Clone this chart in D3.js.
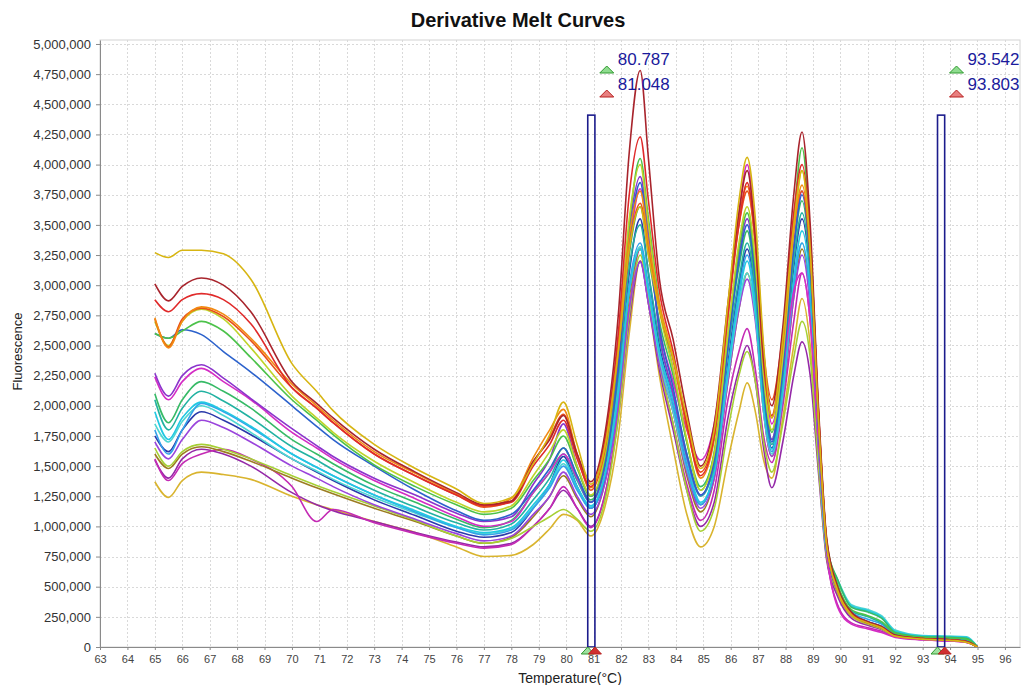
<!DOCTYPE html>
<html>
<head>
<meta charset="utf-8">
<title>Derivative Melt Curves</title>
<script src="https://cdn.jsdelivr.net/npm/d3@7"></script>
<style>
  html, body { margin: 0; padding: 0; background: #ffffff; }
  svg { display: block; font-family: "Liberation Sans", Arial, sans-serif; }
</style>
</head>
<body>
<svg id="chart" width="1035" height="685"></svg>
<script>
// Temperature sample points (°C) shared by every well
const temps = [65, 65.5, 66, 66.7, 67.5, 68.5, 70, 70.9, 71.5, 73, 74.5, 76, 77,
  78, 78.8, 79.4, 79.9, 80.4, 80.9,
  81.4, 81.9, 82.3, 82.7, 83.0, 83.4, 83.9, 84.4, 84.9,
  85.4, 85.9, 86.3, 86.6, 86.9, 87.2, 87.5,
  87.9, 88.3, 88.6, 88.9, 89.2, 89.5,
  89.9, 90.4, 91.0, 91.5, 92.0, 93.0, 94.0, 94.6, 95.0];

// -dF/dT per well, in thousands of fluorescence units
const well01 = [3270, 3230, 3290, 3290, 3260, 3050, 2350, 2120, 1960, 1680, 1480, 1310, 1190,
  1240, 1520, 1760, 2030, 1680, 1350,
  1650, 2450, 3300, 3650, 3250, 2800, 2400, 1900, 1480,
  1800, 2850, 3700, 4060, 3550, 2500, 1900,
  2550, 3500, 3950, 3300, 1900, 850,
  470, 270, 200, 160, 90, 65, 55, 40, 0];
const well02 = [3010, 2870, 2990, 3060, 3000, 2780, 2200, 2020, 1900, 1640, 1450, 1280, 1180,
  1210, 1540, 1720, 1920, 1600, 1370,
  1750, 2750, 4100, 4780, 4050, 3050, 2550, 1950, 1500,
  1850, 2850, 3600, 3950, 3400, 2400, 2000,
  2650, 3750, 4270, 3500, 2000, 900,
  500, 290, 210, 170, 100, 70, 60, 45, 0];
const well03 = [2880, 2780, 2880, 2930, 2880, 2680, 2150, 1980, 1860, 1600, 1420, 1260, 1170,
  1200, 1500, 1680, 1880, 1560, 1330,
  1700, 2600, 3750, 4230, 3700, 2950, 2450, 1850, 1420,
  1750, 2750, 3500, 3850, 3350, 2350, 1920,
  2550, 3600, 4000, 3400, 1950, 880,
  480, 280, 200, 160, 95, 70, 60, 45, 0];
const well04 = [2730, 2480, 2700, 2820, 2760, 2560, 2180, 2000, 1880, 1620, 1440, 1270, 1170,
  1230, 1570, 1800, 1970, 1600, 1320,
  1650, 2500, 3400, 3780, 3350, 2850, 2400, 1850, 1400,
  1720, 2750, 3550, 3820, 3350, 2400, 1900,
  2500, 3450, 3830, 3300, 1950, 870,
  470, 270, 200, 160, 95, 68, 58, 42, 0];
const well05 = [2720, 2490, 2720, 2810, 2740, 2540, 2150, 1980, 1860, 1600, 1420, 1260, 1160,
  1210, 1530, 1740, 1930, 1590, 1300,
  1620, 2450, 3300, 3680, 3300, 2800, 2380, 1820, 1450,
  1780, 2800, 3500, 3780, 3350, 2450, 2050,
  2600, 3500, 3780, 3250, 1920, 860,
  480, 275, 205, 165, 95, 70, 58, 44, 0];
const well06 = [2700, 2500, 2700, 2800, 2720, 2480, 2080, 1900, 1780, 1540, 1360, 1200, 1120,
  1170, 1420, 1620, 1800, 1500, 1260,
  1580, 2500, 3550, 4000, 3500, 2800, 2300, 1720, 1300,
  1600, 2600, 3350, 3650, 3200, 2250, 1800,
  2400, 3450, 3950, 3300, 1900, 860,
  460, 270, 200, 165, 95, 68, 58, 42, 0];
const well07 = [2600, 2560, 2620, 2700, 2620, 2400, 2050, 1880, 1760, 1510, 1330, 1180, 1100,
  1150, 1380, 1560, 1750, 1480, 1250,
  1560, 2450, 3500, 4050, 3550, 2850, 2300, 1700, 1300,
  1620, 2600, 3300, 3600, 3150, 2250, 1780,
  2450, 3550, 4140, 3400, 1950, 880,
  520, 310, 260, 210, 115, 80, 75, 65, 0];
const well08 = [2600, 2560, 2630, 2590, 2450, 2280, 2000, 1830, 1720, 1500, 1300, 1130, 1050,
  1100, 1300, 1480, 1650, 1420, 1200,
  1500, 2300, 3350, 3850, 3350, 2650, 2150, 1600, 1260,
  1550, 2500, 3200, 3500, 3050, 2150, 1700,
  2300, 3300, 3750, 3200, 1850, 840,
  470, 280, 210, 170, 100, 72, 62, 48, 0];
const well09 = [2270, 2080, 2250, 2340, 2230, 2060, 1810, 1670, 1580, 1400, 1260, 1110, 1040,
  1080, 1350, 1560, 1850, 1500, 1250,
  1550, 2400, 3450, 3900, 3450, 2600, 2100, 1580, 1260,
  1550, 2500, 3250, 3550, 3100, 2200, 1720,
  2350, 3350, 3780, 3200, 1850, 830,
  460, 270, 200, 160, 95, 68, 58, 42, 0];
const well10 = [2240, 2050, 2200, 2310, 2200, 2050, 1780, 1650, 1560, 1380, 1230, 1080, 1000,
  1040, 1280, 1450, 1600, 1400, 1200,
  1500, 2350, 3300, 3800, 3350, 2650, 2200, 1800, 1550,
  1850, 2750, 3600, 4000, 3450, 2450, 1850,
  2300, 2950, 3100, 2700, 1700, 800,
  330, 190, 150, 120, 80, 60, 50, 38, 0];
const well11 = [2100, 1860, 2050, 2200, 2120, 1980, 1720, 1600, 1520, 1340, 1200, 1060, 990,
  1050, 1280, 1450, 1650, 1420, 1220,
  1500, 2300, 3250, 3650, 3250, 2700, 2250, 1700, 1330,
  1600, 2550, 3150, 3450, 3000, 2150, 1720,
  2300, 3300, 3700, 3150, 1850, 840,
  560, 330, 290, 240, 120, 85, 80, 72, 0];
const well12 = [2050, 1800, 1980, 2120, 2040, 1900, 1660, 1550, 1470, 1300, 1160, 1030, 970,
  1020, 1220, 1400, 1600, 1380, 1200,
  1480, 2250, 3150, 3500, 3100, 2550, 2100, 1600, 1250,
  1500, 2450, 3050, 3350, 2950, 2100, 1680,
  2250, 3200, 3600, 3100, 1800, 820,
  500, 300, 250, 200, 110, 78, 72, 62, 0];
const well13 = [1950, 1720, 1900, 2030, 1960, 1830, 1600, 1490, 1420, 1260, 1130, 1000, 950,
  990, 1180, 1350, 1550, 1330, 1170,
  1420, 2100, 2950, 3300, 2950, 2450, 2050, 1550, 1200,
  1450, 2300, 2900, 3200, 2800, 2000, 1640,
  2150, 3050, 3450, 3000, 1750, 800,
  550, 340, 300, 250, 130, 90, 85, 80, 0];
const well14 = [1800, 1600, 1800, 2020, 1950, 1820, 1600, 1490, 1420, 1260, 1120, 990, 930,
  970, 1150, 1320, 1500, 1300, 1150,
  1400, 2100, 3000, 3350, 3000, 2450, 2000, 1500, 1180,
  1450, 2300, 2950, 3250, 2850, 2000, 1620,
  2150, 3000, 3350, 2900, 1700, 790,
  480, 290, 230, 190, 105, 75, 68, 55, 0];
const well15 = [1850, 1700, 1870, 2000, 1920, 1780, 1560, 1460, 1390, 1240, 1110, 990, 940,
  980, 1160, 1330, 1520, 1310, 1160,
  1420, 2150, 2950, 3320, 2950, 2400, 1950, 1480, 1190,
  1450, 2250, 2850, 3100, 2750, 1950, 1600,
  2100, 3000, 3350, 2900, 1700, 790,
  560, 350, 310, 260, 140, 95, 90, 85, 0];
const well16 = [1750, 1620, 1800, 1950, 1880, 1760, 1560, 1450, 1380, 1220, 1090, 960, 910,
  950, 1150, 1350, 1580, 1330, 1150,
  1400, 2150, 3100, 3550, 3100, 2500, 2050, 1500, 1180,
  1450, 2350, 3000, 3300, 2900, 2050, 1650,
  2200, 3150, 3550, 3050, 1780, 810,
  470, 280, 210, 170, 100, 72, 62, 48, 0];
const well17 = [1700, 1560, 1720, 1880, 1820, 1700, 1500, 1400, 1330, 1180, 1060, 940, 880,
  920, 1100, 1250, 1450, 1250, 1100,
  1350, 2000, 2800, 3190, 2850, 2350, 1950, 1450, 1150,
  1400, 2200, 2800, 3050, 2700, 1950, 1580,
  2050, 2900, 3250, 2800, 1650, 780,
  460, 270, 200, 160, 95, 68, 58, 42, 0];
const well18 = [1650, 1500, 1620, 1680, 1640, 1560, 1420, 1340, 1290, 1170, 1050, 920, 860,
  900, 1000, 1080, 1140, 1060, 960,
  1200, 1900, 2750, 3250, 2900, 2350, 1850, 1300, 960,
  1150, 1800, 2250, 2450, 2200, 1700, 1450,
  1850, 2400, 2700, 2400, 1500, 750,
  450, 260, 190, 150, 90, 65, 55, 40, 0];
const well19 = [1600, 1480, 1600, 1660, 1620, 1540, 1400, 1320, 1270, 1150, 1040, 920, 860,
  910, 1080, 1250, 1420, 1230, 1080,
  1350, 2050, 2900, 3300, 2950, 2400, 1950, 1420, 1120,
  1400, 2200, 2800, 3100, 2750, 1950, 1580,
  2050, 2900, 3300, 2850, 1650, 770,
  460, 270, 200, 160, 95, 68, 58, 42, 0];
const well20 = [1560, 1380, 1520, 1600, 1640, 1560, 1330, 1040, 1140, 1030, 940, 860, 820,
  850, 1000, 1150, 1330, 1150, 990,
  1250, 1950, 2800, 3300, 2950, 2350, 1850, 1350, 1050,
  1300, 2050, 2450, 2640, 2300, 1750, 1530,
  2000, 2700, 3100, 2700, 1650, 780,
  350, 200, 160, 130, 85, 60, 50, 38, 0];
const well21 = [1550, 1400, 1560, 1640, 1600, 1500, 1280, 1180, 1130, 1040, 950, 870, 830,
  860, 1000, 1150, 1300, 1150, 1000,
  1250, 1900, 2700, 3200, 2850, 2300, 1800, 1300, 1000,
  1200, 1900, 2300, 2500, 2200, 1650, 1320,
  1700, 2250, 2530, 2250, 1450, 720,
  420, 240, 180, 145, 88, 62, 52, 40, 0];
const well22 = [1370, 1240, 1380, 1450, 1430, 1390, 1250, 1180, 1140, 1040, 950, 830, 750,
  760, 850, 980, 1100, 1050, 920,
  1150, 1750, 2600, 3200, 2850, 2250, 1650, 1100, 830,
  1000, 1550, 1950, 2190, 1950, 1550, 1400,
  1900, 2500, 2890, 2500, 1550, 740,
  440, 255, 190, 150, 90, 65, 55, 40, 0];

const wells = [well01, well02, well03, well04, well05, well06, well07, well08, well09, well10, well11,
  well12, well13, well14, well15, well16, well17, well18, well19, well20, well21, well22];

const wellColors = ["#d7b512", "#a8242c", "#e02a2a", "#f28a12", "#e8501a", "#bed42a", "#4cc24a",
  "#2c62cc", "#8a34cc", "#d42cc4", "#36ba66", "#22b2a2", "#22c8e2", "#34a2ea", "#4ed6d2",
  "#2a3aaa", "#9a44dc", "#a6d034", "#9c7c22", "#c42ab4", "#9428a8", "#d9b42e"];

// Axis ticks
const xTicks = d3.range(63, 97);
const yTicks = d3.range(0, 5000001, 250000);

// Melt-region cursors: [left, right] temperature of each selection window
const cursorPairs = [[80.787, 81.048], [93.542, 93.803]];
const cursorLabels = [["80.787", "81.048"], ["93.542", "93.803"]];
const cursorHeight = 4410000;

const W = 1035, H = 685;
const plot = { left: 100, right: 1020, top: 40, bottom: 647 };

const svg = d3.select("#chart");

const x = d3.scaleLinear().domain([63, 96.55]).range([plot.left, plot.right]);
const y = d3.scaleLinear().domain([0, 5033000]).range([plot.bottom, plot.top]);

// Title
svg.append("text")
  .attr("x", 518).attr("y", 27)
  .attr("text-anchor", "middle")
  .attr("font-size", 20).attr("font-weight", "bold").attr("fill", "#111")
  .text("Derivative Melt Curves");

// Plot frame
svg.append("rect")
  .attr("x", plot.left).attr("y", plot.top)
  .attr("width", plot.right - plot.left).attr("height", plot.bottom - plot.top)
  .attr("fill", "#fff").attr("stroke", "#d4d4d4").attr("stroke-width", 1);

// Grid
const grid = svg.append("g").attr("stroke", "#d9d9d9").attr("stroke-dasharray", "2,2").attr("stroke-width", 1);
grid.selectAll("line.v").data(xTicks.filter(d => d > 63)).join("line")
  .attr("x1", d => Math.round(x(d)) + 0.5).attr("x2", d => Math.round(x(d)) + 0.5)
  .attr("y1", plot.top).attr("y2", plot.bottom);
grid.selectAll("line.h").data(yTicks.filter(d => d > 0)).join("line")
  .attr("y1", d => Math.round(y(d)) + 0.5).attr("y2", d => Math.round(y(d)) + 0.5)
  .attr("x1", plot.left).attr("x2", plot.right);

// Curves
svg.append("clipPath").attr("id", "plotClip")
  .append("rect").attr("x", plot.left).attr("y", plot.top)
  .attr("width", plot.right - plot.left).attr("height", plot.bottom - plot.top);

const line = d3.line()
  .x((d, i) => x(temps[i]))
  .y(d => y(d * 1000))
  .curve(d3.curveMonotoneX);

const curveLayer = svg.append("g").attr("clip-path", "url(#plotClip)");
const order = d3.range(wells.length).reverse();
curveLayer.selectAll("path.well").data(order).join("path")
  .attr("class", "well")
  .attr("d", i => line(wells[i]))
  .attr("fill", "none")
  .attr("stroke", i => wellColors[i])
  .attr("stroke-width", 1.6)
  .attr("stroke-linejoin", "round");

// Cursor windows
const cursorLayer = svg.append("g");
cursorLayer.selectAll("rect.cursor").data(cursorPairs).join("rect")
  .attr("class", "cursor")
  .attr("x", d => x(d[0])).attr("width", d => x(d[1]) - x(d[0]))
  .attr("y", y(cursorHeight)).attr("height", plot.bottom - y(cursorHeight))
  .attr("fill", "none").attr("stroke", "#1c1c8c").attr("stroke-width", 1.6);

function triangle(g, cx, baseY, w, h, fill, stroke) {
  g.append("path")
    .attr("d", `M${cx - w / 2},${baseY} L${cx},${baseY - h} L${cx + w / 2},${baseY} Z`)
    .attr("fill", fill).attr("stroke", stroke).attr("stroke-width", 1);
}

cursorPairs.forEach((pair, k) => {
  const x0 = x(pair[0]);
  // labels with start/end markers
  triangle(cursorLayer, x0 + 19, 73, 14, 7, "#8fdc8f", "#2f9a2f");
  triangle(cursorLayer, x0 + 19, 97, 14, 7, "#e88080", "#b82020");
  cursorLayer.append("text")
    .attr("x", x0 + 30).attr("y", 65)
    .attr("font-size", 17).attr("fill", "#1a1a9c")
    .text(cursorLabels[k][0]);
  cursorLayer.append("text")
    .attr("x", x0 + 30).attr("y", 90)
    .attr("font-size", 17).attr("fill", "#1a1a9c")
    .text(cursorLabels[k][1]);
});

// Axes
const yAxis = d3.axisLeft(y).tickValues(yTicks).tickFormat(d3.format(","))
  .tickSize(4).tickSizeOuter(0).tickPadding(5);
const gy = svg.append("g").attr("transform", `translate(${plot.left},0)`).call(yAxis);
gy.select(".domain").attr("stroke", "#8a8a8a");
gy.selectAll(".tick line").attr("stroke", "#8a8a8a");
gy.selectAll(".tick text").attr("font-size", 13).attr("fill", "#333")
  .attr("font-family", "'Liberation Sans', Arial, sans-serif");

const xAxis = d3.axisBottom(x).tickValues(xTicks).tickFormat(d3.format("d"))
  .tickSize(3).tickSizeOuter(0).tickPadding(5);
const gx = svg.append("g").attr("transform", `translate(0,${plot.bottom})`).call(xAxis);
gx.select(".domain").attr("stroke", "#8a8a8a");
gx.selectAll(".tick line").attr("stroke", "#8a8a8a");
gx.selectAll(".tick text").attr("font-size", 11).attr("fill", "#444")
  .attr("font-family", "'Liberation Sans', Arial, sans-serif");

// Cursor markers on the temperature axis
cursorPairs.forEach(pair => {
  triangle(svg, x(pair[0]), plot.bottom + 7, 13, 7, "#9fe09f", "#2f9a2f");
  triangle(svg, x(pair[1]), plot.bottom + 7, 13, 7, "#d03030", "#b82020");
});

// Axis titles
svg.append("text")
  .attr("transform", `translate(22,${(plot.top + plot.bottom) / 2 + 8}) rotate(-90)`)
  .attr("text-anchor", "middle").attr("font-size", 13).attr("fill", "#222")
  .text("Fluorescence");
svg.append("text")
  .attr("x", 570).attr("y", 683)
  .attr("text-anchor", "middle").attr("font-size", 14).attr("fill", "#222")
  .text("Temperature(°C)");
</script>
</body>
</html>
